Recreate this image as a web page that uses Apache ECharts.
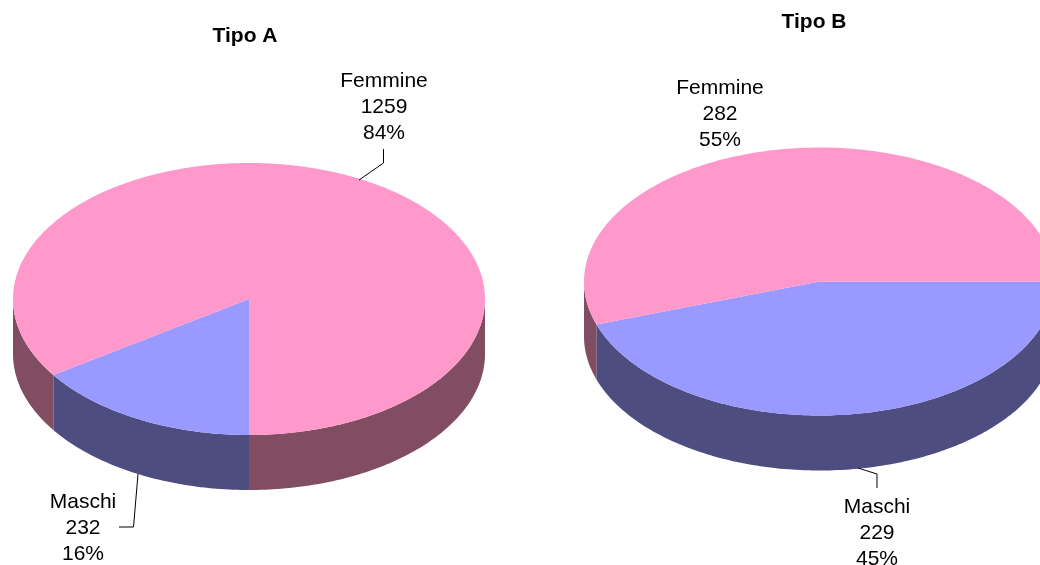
<!DOCTYPE html>
<html>
<head>
<meta charset="utf-8">
<script src="https://cdn.jsdelivr.net/npm/echarts@6/dist/echarts.min.js"></script>
<style>html,body{margin:0;padding:0;background:#fff}#c{width:1040px;height:565px}</style>
</head>
<body>
<div id="c"></div>
<script>
var categories = ['Maschi', 'Femmine'];
var valuesA = [232, 1259];
var valuesB = [229, 282];
var titles = ['Tipo A', 'Tipo B'];

var topColors = { Maschi: '#9999FF', Femmine: '#FF99CC' };
var sideColors = { Maschi: '#4D4D80', Femmine: '#804D62' };
var FONT = '"Liberation Sans", Arial, sans-serif';

var pieA = {
  cx: 249, cy: 299, rx: 236, ry: 136, depth: 55, start: 90,
  labels: {
    Maschi: { x: 83, y: 528, line: [[138, 474], [133.5, 527], [119, 527]] },
    Femmine: { x: 384, y: 107, line: [[359, 180], [383.5, 163], [383.5, 149]] }
  }
};
var pieB = {
  cx: 819.5, cy: 281.5, rx: 235.5, ry: 134, depth: 55, start: 0,
  labels: {
    Maschi: { x: 877, y: 533, line: [[858, 468], [877, 474], [877, 488]] },
    Femmine: { x: 720, y: 114, line: null }
  }
};

function arc(p, a0, a1, dy) {
  var n = Math.max(2, Math.ceil((a1 - a0) / (Math.PI / 180)));
  var pts = [];
  for (var i = 0; i <= n; i++) {
    var a = a0 + (a1 - a0) * i / n;
    pts.push([p.cx + p.rx * Math.cos(a), p.cy + dy + p.ry * Math.sin(a)]);
  }
  return pts;
}

function makeSeries(values, layout) {
  var total = values.reduce(function (s, v) { return s + v; }, 0);
  return {
    type: 'custom',
    coordinateSystem: 'none',
    silent: true,
    clip: false,
    data: values.map(function (v, i) { return { name: categories[i], value: v }; }),
    renderItem: function (params, api) {
      var idx = params.dataIndex;
      var cat = categories[idx];
      var before = 0;
      for (var j = 0; j < idx; j++) before += values[j];
      var base = layout.start * Math.PI / 180;
      var a0 = base + before / total * 2 * Math.PI;
      var a1 = a0 + values[idx] / total * 2 * Math.PI;
      var children = [];

      [[0, Math.PI], [2 * Math.PI, 3 * Math.PI]].forEach(function (w) {
        var s = Math.max(a0, w[0]), e = Math.min(a1, w[1]);
        if (e > s) {
          var pts = arc(layout, s, e, 0).concat(arc(layout, s, e, layout.depth).reverse());
          children.push({
            type: 'polygon', z2: 1,
            shape: { points: pts },
            style: { fill: sideColors[cat], stroke: null }
          });
        }
      });

      children.push({
        type: 'polygon', z2: 2,
        shape: { points: [[layout.cx, layout.cy]].concat(arc(layout, a0, a1, 0)) },
        style: { fill: topColors[cat], stroke: null }
      });

      var lab = layout.labels[cat];
      if (lab.line) {
        children.push({
          type: 'polyline', z2: 3,
          shape: { points: lab.line },
          style: { stroke: '#000', lineWidth: 1, fill: null }
        });
      }
      children.push({
        type: 'text', z2: 4,
        x: lab.x, y: lab.y,
        style: {
          text: cat + '\n' + values[idx] + '\n' + Math.round(values[idx] / total * 100) + '%',
          font: '21px ' + FONT,
          lineHeight: 26,
          align: 'center',
          verticalAlign: 'middle',
          fill: '#000'
        }
      });
      return { type: 'group', children: children };
    }
  };
}

var titleStyle = { fontFamily: FONT, fontSize: 21, fontWeight: 'bold', color: '#000' };
var chart = echarts.init(document.getElementById('c'), null, { renderer: 'canvas' });
chart.setOption({
  animation: false,
  backgroundColor: '#fff',
  title: [
    { text: titles[0], left: 245, top: 36, textAlign: 'center', textVerticalAlign: 'middle', textStyle: titleStyle, padding: 0 },
    { text: titles[1], left: 814, top: 22, textAlign: 'center', textVerticalAlign: 'middle', textStyle: titleStyle, padding: 0 }
  ],
  series: [makeSeries(valuesA, pieA), makeSeries(valuesB, pieB)]
});
</script>
</body>
</html>
